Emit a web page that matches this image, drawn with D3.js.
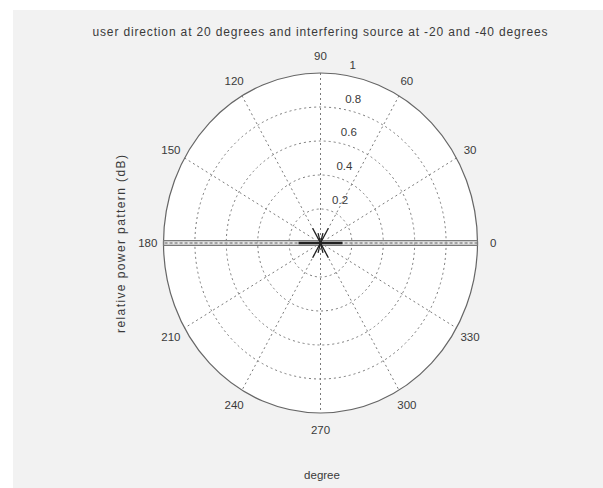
<!DOCTYPE html>
<html><head><meta charset="utf-8">
<script src="https://cdn.jsdelivr.net/npm/d3@7"></script>
<style>html,body{margin:0;padding:0;background:#fff;}svg{display:block;}</style>
</head><body>
<svg id="chart" width="603" height="488"></svg>
<script>
// ---- data ----
const titleText = "user direction at 20 degrees and interfering source at -20 and -40 degrees";
const xLabelText = "degree";
const yLabelText = "relative power pattern (dB)";
const angleTicks = [0, 30, 60, 90, 120, 150, 180, 210, 240, 270, 300, 330];
const spokeAngles = [0, 30, 60, 90, 120, 150];
const radialTicks = [0.2, 0.4, 0.6, 0.8, 1];
const radialTickLabels = ["0.2", "0.4", "0.6", "0.8", "1"];
// main pattern trace (thin lobe along 0/180 degrees)
const bandTheta = [0.8, 179.2, 180.8, -0.8, 0.8];
const bandR = [1, 1, 1, 1, 1];
// small lobes near the origin (segments through the origin)
const starTheta = [60, 120, 0, 75, 105];
const starR = [0.1, 0.1, 0.14, 0.06, 0.06];

// ---- layout ----
const svg = d3.select("#chart");
const cx = 320.5, cy = 243;
const rx = d3.scaleLinear().domain([0, 1]).range([0, 157]);
const ry = d3.scaleLinear().domain([0, 1]).range([0, 170]);
const toRad = d => d * Math.PI / 180;
const px = (r, t) => cx + rx(r) * Math.cos(toRad(t));
const py = (r, t) => cy - ry(r) * Math.sin(toRad(t));
const font = "'Liberation Sans', Arial, sans-serif";
const txtColor = "#3a3a3a";

svg.append("rect").attr("x", 13).attr("y", 10).attr("width", 590).attr("height", 478).attr("fill", "#f2f2f2");

// disk
svg.append("ellipse").attr("cx", cx).attr("cy", cy).attr("rx", rx(1)).attr("ry", ry(1)).attr("fill", "#fff");

// grid circles
svg.selectAll("ellipse.grid").data(radialTicks.slice(0, -1)).enter().append("ellipse")
  .attr("class", "grid").attr("cx", cx).attr("cy", cy)
  .attr("rx", d => rx(d)).attr("ry", d => ry(d))
  .attr("fill", "none").attr("stroke", "#7a7a7a").attr("stroke-width", 1).attr("stroke-dasharray", "2,3");

// spokes
svg.selectAll("line.spoke").data(spokeAngles).enter().append("line")
  .attr("class", "spoke")
  .attr("x1", d => px(1, d)).attr("y1", d => py(1, d))
  .attr("x2", d => px(1, d + 180)).attr("y2", d => py(1, d + 180))
  .attr("stroke", "#7a7a7a").attr("stroke-width", 1).attr("stroke-dasharray", "2,3");

// outer circle
svg.append("ellipse").attr("cx", cx).attr("cy", cy).attr("rx", rx(1)).attr("ry", ry(1))
  .attr("fill", "none").attr("stroke", "#666").attr("stroke-width", 1.2);

// radial labels
svg.selectAll("text.rlab").data(radialTicks).enter().append("text")
  .attr("class", "rlab")
  .attr("x", d => px(d + 0.01, 82) + 7)
  .attr("y", d => py(d + 0.01, 82) - 4)
  .attr("font-family", font).attr("font-size", 11.5).attr("fill", txtColor)
  .text((d, i) => radialTickLabels[i]);

// angle labels
svg.selectAll("text.alab").data(angleTicks).enter().append("text")
  .attr("class", "alab")
  .attr("x", d => px(1.1, d)).attr("y", d => py(1.1, d))
  .attr("text-anchor", "middle").attr("dominant-baseline", "central")
  .attr("font-family", font).attr("font-size", 11.5).attr("fill", txtColor)
  .text(d => d);

// pattern band
const bandPts = bandTheta.map((t, i) => [px(bandR[i], t), py(bandR[i], t)]);
svg.append("path").attr("d", d3.line()(bandPts))
  .attr("fill", "#d8d8d8").attr("fill-opacity", 0.6).attr("stroke", "#7a7a7a").attr("stroke-width", 1.2);
// dotted 0-180 grid line visible inside band
svg.append("line").attr("x1", px(1, 0)).attr("y1", py(1, 0)).attr("x2", px(1, 180)).attr("y2", py(1, 180))
  .attr("stroke", "#777").attr("stroke-width", 1).attr("stroke-dasharray", "3,2");

// star near origin
svg.selectAll("line.star").data(starTheta).enter().append("line")
  .attr("class", "star")
  .attr("x1", (d, i) => px(starR[i], d)).attr("y1", (d, i) => py(starR[i], d))
  .attr("x2", (d, i) => px(starR[i], d + 180)).attr("y2", (d, i) => py(starR[i], d + 180))
  .attr("stroke", "#222").attr("stroke-width", (d, i) => i === 2 ? 2.5 : 1.3);

// title and axis labels
svg.append("text").attr("x", 320).attr("y", 32).attr("text-anchor", "middle").attr("dominant-baseline", "central")
  .attr("font-family", font).attr("font-size", 12).attr("fill", txtColor)
  .attr("textLength", 455).attr("lengthAdjust", "spacing").text(titleText);
svg.append("text").attr("x", 322).attr("y", 475).attr("text-anchor", "middle").attr("dominant-baseline", "central")
  .attr("font-family", font).attr("font-size", 11.5).attr("fill", txtColor).text(xLabelText);
svg.append("text").attr("transform", "translate(121,244) rotate(-90)").attr("text-anchor", "middle").attr("dominant-baseline", "central")
  .attr("font-family", font).attr("font-size", 12).attr("fill", txtColor)
  .attr("textLength", 178).attr("lengthAdjust", "spacing").text(yLabelText);
</script>
</body></html>
